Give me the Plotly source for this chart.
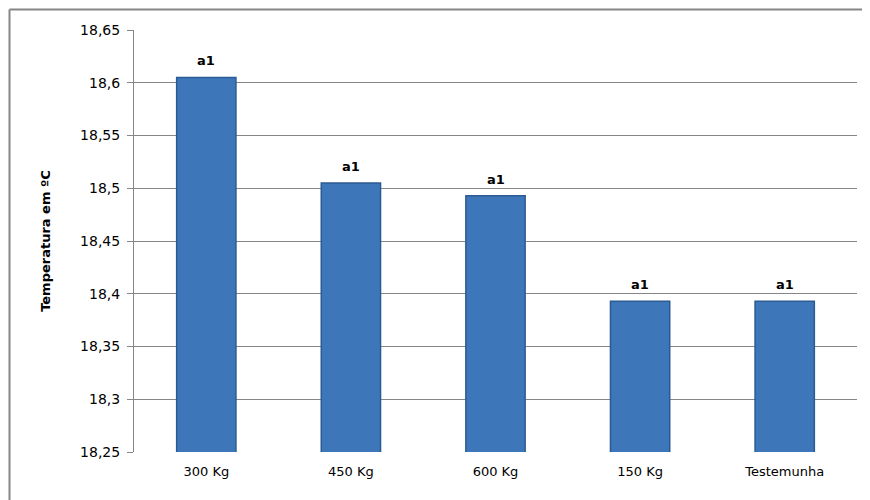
import plotly.graph_objects as go

categories = ["300 Kg", "450 Kg", "600 Kg", "150 Kg", "Testemunha"]
values = [18.605, 18.505, 18.493, 18.393, 18.393]
labels = ["a1", "a1", "a1", "a1", "a1"]
tick_vals = [18.25, 18.3, 18.35, 18.4, 18.45, 18.5, 18.55, 18.6, 18.65]
tick_text = ["18,25", "18,3", "18,35", "18,4", "18,45", "18,5", "18,55", "18,6", "18,65"]

# page has an 8px body margin, compensate
OFF = 8
W, H = 870 - OFF, 500 - OFF
L, R, T, B = 134 - OFF, 13, 30 - OFF, 48
pw, ph = W - L - R, H - T - B

fig = go.Figure()
fig.add_trace(go.Bar(
    x=categories, y=values,
    marker=dict(color="#3e76ba", line=dict(color="#2b5b94", width=1.5)),
    width=0.41, showlegend=False,
))

for c, v, t in zip(categories, values, labels):
    fig.add_annotation(x=c, y=v, text="<b>%s</b>" % t, showarrow=False,
                       yanchor="bottom", yshift=7,
                       font=dict(family="DejaVu Sans", size=13, color="#000000"))

# outer frame (left and top edges), 1px inside the figure
bx = (1.5 - L) / pw
by = 1 + (T - 1.5) / ph
fig.add_shape(type="line", xref="paper", yref="paper", x0=bx, x1=bx, y0=by, y1=-0.3,
              line=dict(color="#868686", width=2))
fig.add_shape(type="line", xref="paper", yref="paper", x0=bx, x1=1.2, y0=by, y1=by,
              line=dict(color="#868686", width=2))

fig.update_layout(
    width=W, height=H,
    margin=dict(l=L, r=R, t=T, b=B),
    paper_bgcolor="white", plot_bgcolor="white",
    font=dict(family="DejaVu Sans", size=13, color="#000000"),
    xaxis=dict(showgrid=False, showline=False, ticks="", tickfont=dict(size=13),
               ticklabelstandoff=10),
    yaxis=dict(range=[18.25, 18.65], tickvals=tick_vals, ticktext=tick_text,
               showgrid=True, gridcolor="#868686", gridwidth=1,
               showline=True, linecolor="#868686", linewidth=1,
               ticks="outside", ticklen=6, tickcolor="#868686",
               tickfont=dict(size=14), ticklabelstandoff=4,
               title=dict(text="<b>Temperatura em ºC</b>", font=dict(size=13), standoff=26),
               zeroline=False),
    bargap=0.59,
)

fig.write_html("out.html")
